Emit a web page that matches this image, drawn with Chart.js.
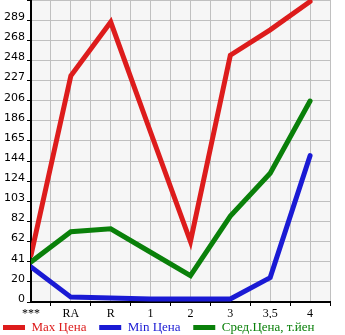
<!DOCTYPE html>
<html>
<head>
<meta charset="utf-8">
<script src="https://cdn.jsdelivr.net/npm/chart.js@4.4.1/dist/chart.umd.min.js"></script>
<style>
  html, body { margin: 0; padding: 0; background: #fff; }
  #box { width: 345px; height: 335px; position: relative; }
</style>
</head>
<body>
<div id="box"><canvas id="canv"></canvas></div>
<script>
// categories (x) and the three price series
var categories = ['***', 'RA', 'R', '1', '2', '3', '3,5', '4'];
var maxPrice = [48, 232, 287, 174, 62, 253, 279, 308];
var minPrice = [36, 5, 4, 3, 3, 3, 25, 150];
var avgPrice = [41, 72, 75, 51, 27, 88, 132, 206];
var yTickLabels = ['0', '20', '41', '62', '82', '103', '124', '144', '165', '186', '206', '227', '248', '268', '289', ''];
var seriesNames = ['Max Цена', 'Min Цена', 'Сред.Цена, т.йен'];
var seriesColors = ['#dd1c1c', '#1a1ad4', '#0a800a'];

var yStep = 20.64;

function toPoints(arr){
  return arr.map(function(v, i){ return {x: i, y: v}; });
}

var plotBg = {
  id: 'plotBg',
  beforeDraw: function(chart){
    var a = chart.chartArea, ctx = chart.ctx;
    ctx.save();
    ctx.fillStyle = '#f6f6f6';
    ctx.fillRect(a.left, a.top, a.right - a.left, a.bottom - a.top);
    ctx.restore();
  }
};

var lists = [maxPrice, minPrice, avgPrice];
var datasets = lists.map(function(arr, k){
  return {
    label: seriesNames[k],
    data: toPoints(arr),
    borderColor: seriesColors[k],
    backgroundColor: seriesColors[k],
    borderWidth: 5,
    pointRadius: 0,
    tension: 0,
    borderJoinStyle: 'miter',
    borderCapStyle: 'round'
  };
});
// draw order: green under blue under red
datasets[0].order = 1; datasets[1].order = 2; datasets[2].order = 3;

var myChart = new Chart(document.getElementById('canv'), {
  type: 'line',
  data: { datasets: datasets },
  plugins: [plotBg],
  options: {
    responsive: true,
    maintainAspectRatio: false,
    animation: false,
    layout: { padding: { left: 0, right: 0, top: 0, bottom: -9 } },
    plugins: {
      tooltip: { enabled: false },
      legend: {
        position: 'bottom',
        align: 'start',
        labels: {
          boxWidth: 22,
          boxHeight: 5,
          padding: 3,
          font: { family: '"Liberation Serif", "DejaVu Serif", serif', size: 13 },
          generateLabels: function(chart){
            return chart.data.datasets.map(function(ds, i){
              return {
                text: ds.label + '   ',
                fillStyle: ds.borderColor,
                strokeStyle: ds.borderColor,
                lineWidth: 0,
                fontColor: ds.borderColor,
                hidden: false,
                datasetIndex: i
              };
            });
          }
        }
      }
    },
    scales: {
      x: {
        type: 'linear',
        min: 0,
        max: 7.5,
        border: { color: '#000', width: 2 },
        grid: {
          color: '#c0c0c0',
          tickLength: 4,
          tickColor: function(c){ return Number.isInteger(c.tick.value) ? 'rgba(0,0,0,0)' : '#000'; }
        },
        ticks: {
          stepSize: 0.5,
          autoSkip: false,
          maxRotation: 0,
          padding: 1,
          color: '#000',
          font: { family: '"Liberation Serif", "DejaVu Serif", serif', size: 12 },
          callback: function(v){ return Number.isInteger(v) ? categories[v] : ''; }
        },
        afterFit: function(s){ s.height = 16; s.paddingRight = 15; }
      },
      y: {
        min: 0,
        max: yStep * 15,
        border: { color: '#000', width: 2 },
        grid: { color: '#c0c0c0', tickLength: 4, tickColor: '#000' },
        ticks: {
          stepSize: yStep,
          autoSkip: false,
          padding: 2,
          labelOffset: -3,
          color: '#000',
          font: { family: '"DejaVu Sans", sans-serif', size: 11 },
          callback: function(v, i){ return yTickLabels[i]; }
        },
        afterFit: function(s){ s.width = 31; s.paddingTop = 0; s.paddingBottom = 0; }
      }
    }
  }
});
</script>
</body>
</html>
